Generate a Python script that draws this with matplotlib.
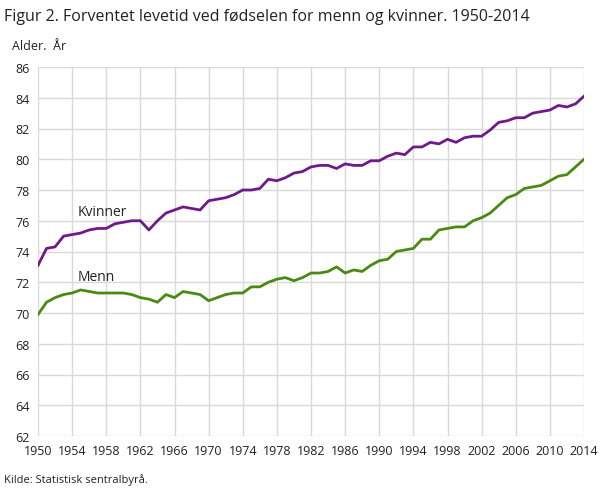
import matplotlib.pyplot as plt

years = list(range(1950, 2015))
kvinner = [73.1, 74.2, 74.3, 75.0, 75.1, 75.2, 75.4, 75.5, 75.5, 75.8,
           75.9, 76.0, 76.0, 75.4, 76.0, 76.5, 76.7, 76.9, 76.8, 76.7,
           77.3, 77.4, 77.5, 77.7, 78.0, 78.0, 78.1, 78.7, 78.6, 78.8,
           79.1, 79.2, 79.5, 79.6, 79.6, 79.4, 79.7, 79.6, 79.6, 79.9,
           79.9, 80.2, 80.4, 80.3, 80.8, 80.8, 81.1, 81.0, 81.3, 81.1,
           81.4, 81.5, 81.5, 81.9, 82.4, 82.5, 82.7, 82.7, 83.0, 83.1,
           83.2, 83.5, 83.4, 83.6, 84.1]
menn = [69.9, 70.7, 71.0, 71.2, 71.3, 71.5, 71.4, 71.3, 71.3, 71.3,
        71.3, 71.2, 71.0, 70.9, 70.7, 71.2, 71.0, 71.4, 71.3, 71.2,
        70.8, 71.0, 71.2, 71.3, 71.3, 71.7, 71.7, 72.0, 72.2, 72.3,
        72.1, 72.3, 72.6, 72.6, 72.7, 73.0, 72.6, 72.8, 72.7, 73.1,
        73.4, 73.5, 74.0, 74.1, 74.2, 74.8, 74.8, 75.4, 75.5, 75.6,
        75.6, 76.0, 76.2, 76.5, 77.0, 77.5, 77.7, 78.1, 78.2, 78.3,
        78.6, 78.9, 79.0, 79.5, 80.0]
xticks = list(range(1950, 2015, 4))
yticks = list(range(62, 87, 2))

plt.rcParams['font.family'] = ['Open Sans', 'DejaVu Sans']
fig = plt.figure(figsize=(6.09, 4.89), dpi=100)
ax = fig.add_axes([38 / 609, 1 - 437 / 489, 546 / 609, 369 / 489])

ax.plot(years, kvinner, color='#6f1a8a', lw=2)
ax.plot(years, menn, color='#4a8a12', lw=2)
ax.text(1954.7, 76.6, 'Kvinner', fontsize=10, va='center', color='#222222')
ax.text(1954.7, 72.4, 'Menn', fontsize=10, va='center', color='#222222')

ax.set_xlim(1950, 2014)
ax.set_ylim(62, 86)
ax.set_xticks(xticks)
ax.set_yticks(yticks)
ax.tick_params(length=0, labelsize=9, colors='#222222', pad=6)
ax.grid(True, color='#d9d9d9', lw=1)
ax.set_axisbelow(True)
for s in ax.spines.values():
    s.set_visible(False)

fig.text(4 / 609, 1 - 17 / 489, 'Figur 2. Forventet levetid ved fødselen for menn og kvinner. 1950-2014',
         fontsize=11.5, va='center', color='#222222')
fig.text(12 / 609, 1 - 47 / 489, 'Alder.  År', fontsize=9, va='center', color='#222222')
fig.text(4 / 609, 1 - 480 / 489, 'Kilde: Statistisk sentralbyrå.', fontsize=8, va='center', color='#222222')

fig.savefig('out.png', dpi=100)
